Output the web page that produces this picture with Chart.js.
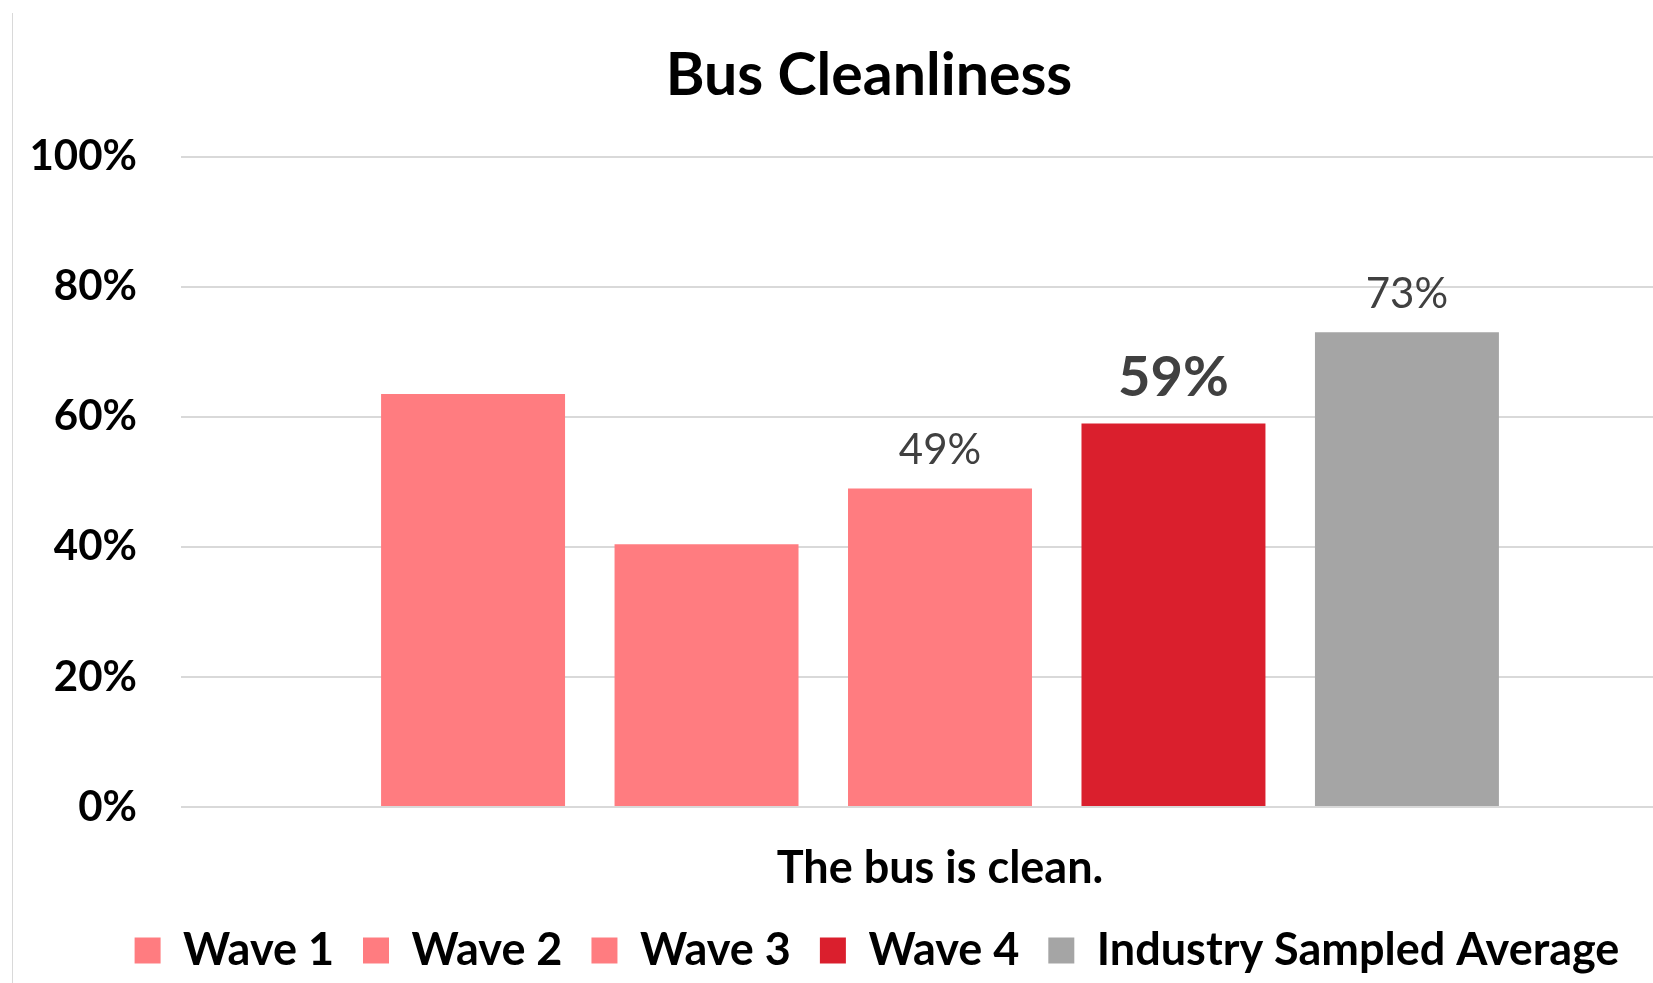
<!DOCTYPE html>
<html>

<head>
    <title>Bus Cleanliness</title>
    <script src="https://cdn.jsdelivr.net/npm/chart.js"></script>
    <style>
        html, body {
            margin: 0;
            padding: 0;
            background: #ffffff;
            overflow: hidden;
        }

        #frame {
            position: absolute;
            left: 12px;
            top: 13px;
            width: 1715px;
            height: 970px;
            border-left: 1px solid #d9d9d9;
        }

        canvas {
            display: block;
        }
    </style>
</head>

<body>
    <div id="frame">
        <canvas id="cleanChart" width="1715" height="970"></canvas>
    </div>

    <script>
        const categories = ['The bus is clean.'];
        const seriesNames = ['Wave 1', 'Wave 2', 'Wave 3', 'Wave 4', 'Industry Sampled Average'];
        const seriesValues = [63.5, 40.4, 49, 59, 73];
        const showValue = [false, false, true, true, true];
        const yTicks = [0, 20, 40, 60, 80, 100];

        const palette = ['#ff7c80', '#ff7c80', '#ff7c80', '#da1f2d', '#a5a5a5'];
        const FONT = 'Lato';

        // value labels above the bars (Wave 4 is the highlighted one)
        const valueLabels = {
            id: 'valueLabels',
            afterDatasetsDraw(chart) {
                const ctx = chart.ctx;
                ctx.save();
                ctx.fillStyle = '#404040';
                ctx.textAlign = 'center';
                ctx.textBaseline = 'alphabetic';
                chart.data.datasets.forEach((ds, i) => {
                    if (!showValue[i]) return;
                    const bar = chart.getDatasetMeta(i).data[0];
                    const big = i === 3;
                    ctx.font = (big ? 'bold 56px ' : '42px ') + FONT;
                    ctx.fillText(Math.round(ds.data[0]) + '%', bar.x, bar.y - (big ? 27 : 24));
                });
                ctx.restore();
            }
        };

        // title and legend sit a little right of the plot's centre
        const nudgeBoxes = {
            id: 'nudgeBoxes',
            afterLayout(chart) {
                if (chart.titleBlock) {
                    chart.titleBlock.left += 5;
                    chart.titleBlock.right += 5;
                }
                if (chart.legend) {
                    chart.legend.left += 13;
                    chart.legend.right += 13;
                }
            }
        };

        const datasets = seriesNames.map((name, i) => ({
            label: name,
            data: [seriesValues[i]],
            backgroundColor: palette[i],
            borderWidth: 0,
            categoryPercentage: 0.769,
            barPercentage: 0.788
        }));

        new Chart(document.getElementById('cleanChart'), {
            type: 'bar',
            data: { labels: categories, datasets: datasets },
            plugins: [valueLabels, nudgeBoxes],
            options: {
                responsive: false,
                animation: false,
                layout: { padding: { left: 16, right: 29, top: 0, bottom: 0 } },
                plugins: {
                    title: {
                        display: true,
                        text: 'Bus Cleanliness',
                        color: '#000000',
                        font: { family: FONT, size: 59, weight: 'bold' },
                        padding: { top: 28, bottom: 45 }
                    },
                    legend: {
                        position: 'bottom',
                        labels: {
                            color: '#000000',
                            font: { family: FONT, size: 45, weight: 'bold' },
                            boxWidth: 26,
                            boxHeight: 26,
                            padding: 29
                        }
                    },
                    tooltip: { enabled: false }
                },
                scales: {
                    x: {
                        afterFit(scale) { scale.height = 92; },
                        grid: { display: false, drawTicks: false },
                        border: { display: false },
                        ticks: {
                            color: '#000000',
                            font: { family: FONT, size: 45, weight: 'bold' },
                            padding: 34
                        }
                    },
                    y: {
                        min: yTicks[0],
                        max: yTicks[yTicks.length - 1],
                        afterFit(scale) { scale.width = 152; },
                        afterBuildTicks(scale) {
                            scale.ticks = yTicks.map(v => ({ value: v }));
                        },
                        grid: { color: '#d9d9d9', lineWidth: 2, drawTicks: false },
                        border: { display: false },
                        ticks: {
                            color: '#000000',
                            font: { family: FONT, size: 42, weight: 'bold' },
                            padding: 44,
                            callback: v => v + '%'
                        }
                    }
                }
            }
        });
    </script>
</body>

</html>
